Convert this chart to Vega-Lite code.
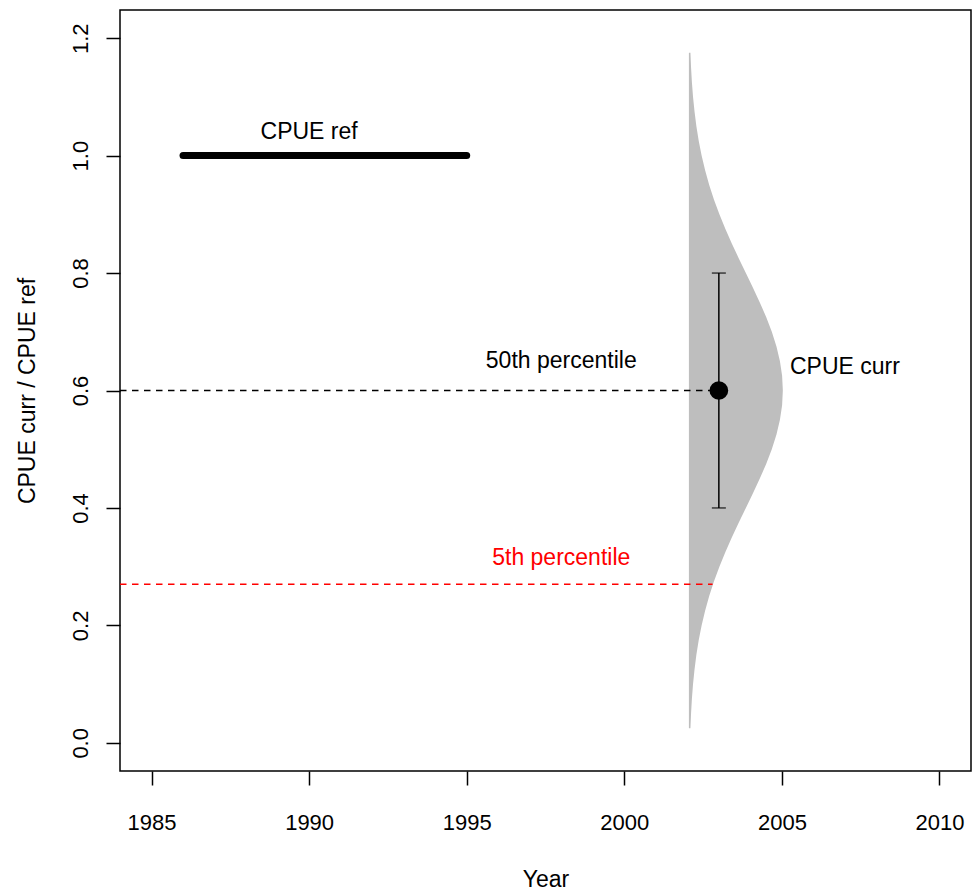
{
  "$schema": "https://vega.github.io/schema/vega-lite/v6.json",
  "width": 851,
  "height": 761,
  "autosize": {"type": "none"},
  "padding": {"left": 120, "top": 10, "right": 1, "bottom": 124},
  "background": "white",
  "config": {
    "font": "Liberation Sans",
    "view": {"stroke": "black", "strokeWidth": 1.5},
    "text": {"font": "Liberation Sans", "fontSize": 23}
  },
  "datasets": {
    "density": [
      {"ratio": 0.025, "year": 2002.098},
      {"ratio": 0.05, "year": 2002.118},
      {"ratio": 0.075, "year": 2002.145},
      {"ratio": 0.1, "year": 2002.181},
      {"ratio": 0.125, "year": 2002.228},
      {"ratio": 0.15, "year": 2002.287},
      {"ratio": 0.175, "year": 2002.362},
      {"ratio": 0.2, "year": 2002.453},
      {"ratio": 0.225, "year": 2002.564},
      {"ratio": 0.25, "year": 2002.694},
      {"ratio": 0.275, "year": 2002.846},
      {"ratio": 0.3, "year": 2003.017},
      {"ratio": 0.325, "year": 2003.208},
      {"ratio": 0.35, "year": 2003.414},
      {"ratio": 0.375, "year": 2003.633},
      {"ratio": 0.4, "year": 2003.857},
      {"ratio": 0.425, "year": 2004.082},
      {"ratio": 0.45, "year": 2004.299},
      {"ratio": 0.475, "year": 2004.501},
      {"ratio": 0.5, "year": 2004.68},
      {"ratio": 0.525, "year": 2004.828},
      {"ratio": 0.55, "year": 2004.938},
      {"ratio": 0.575, "year": 2005.007},
      {"ratio": 0.6, "year": 2005.03},
      {"ratio": 0.625, "year": 2005.007},
      {"ratio": 0.65, "year": 2004.938},
      {"ratio": 0.675, "year": 2004.828},
      {"ratio": 0.7, "year": 2004.68},
      {"ratio": 0.725, "year": 2004.501},
      {"ratio": 0.75, "year": 2004.299},
      {"ratio": 0.775, "year": 2004.082},
      {"ratio": 0.8, "year": 2003.857},
      {"ratio": 0.825, "year": 2003.633},
      {"ratio": 0.85, "year": 2003.414},
      {"ratio": 0.875, "year": 2003.208},
      {"ratio": 0.9, "year": 2003.017},
      {"ratio": 0.925, "year": 2002.846},
      {"ratio": 0.95, "year": 2002.694},
      {"ratio": 0.975, "year": 2002.564},
      {"ratio": 1.0, "year": 2002.453},
      {"ratio": 1.025, "year": 2002.362},
      {"ratio": 1.05, "year": 2002.287},
      {"ratio": 1.075, "year": 2002.228},
      {"ratio": 1.1, "year": 2002.181},
      {"ratio": 1.125, "year": 2002.145},
      {"ratio": 1.15, "year": 2002.118},
      {"ratio": 1.175, "year": 2002.098}
    ],
    "reference": [
      {"year": 1986, "ratio": 1.0},
      {"year": 1995, "ratio": 1.0}
    ],
    "median": [
      {"year": 1984, "ratio": 0.6},
      {"year": 2003, "ratio": 0.6}
    ],
    "fifth": [
      {"year": 1984, "ratio": 0.27},
      {"year": 2002.8, "ratio": 0.27}
    ],
    "current": [
      {"year": 2003, "ratio": 0.6, "lower": 0.4, "upper": 0.8}
    ],
    "bounds": [
      {"year": 2003, "ratio": 0.4},
      {"year": 2003, "ratio": 0.8}
    ],
    "labels": [
      {"year": 1990, "ratio": 1.04, "label": "CPUE ref"},
      {"year": 1998, "ratio": 0.65, "label": "50th percentile"},
      {"year": 2007, "ratio": 0.64, "label": "CPUE curr"}
    ],
    "redLabels": [
      {"year": 1998, "ratio": 0.315, "label": "5th percentile"}
    ]
  },
  "layer": [
    {
      "data": {"name": "density"},
      "mark": {"type": "area", "orient": "horizontal", "color": "#BEBEBE", "opacity": 1},
      "encoding": {
        "y": {
          "field": "ratio",
          "type": "quantitative",
          "scale": {"domain": [-0.048, 1.248], "nice": false, "zero": false},
          "axis": {
            "values": [0, 0.2, 0.4, 0.6, 0.8, 1.0, 1.2],
            "format": ".1f",
            "title": "CPUE curr / CPUE ref",
            "domain": false,
            "grid": false,
            "tickSize": 14,
            "tickWidth": 1.5,
            "tickColor": "black",
            "labelAngle": -90,
            "labelAlign": "center",
            "labelBaseline": "alphabetic",
            "labelPadding": 19,
            "labelFontSize": 22,
            "labelColor": "black",
            "labelFont": "Liberation Sans",
            "labelOverlap": false,
            "titleFont": "Liberation Sans",
            "titleFontSize": 23,
            "titleFontWeight": "normal",
            "titleColor": "black",
            "titlePadding": 30
          }
        },
        "x": {
          "field": "year",
          "type": "quantitative",
          "scale": {"domain": [1984, 2011], "nice": false, "zero": false},
          "axis": {
            "values": [1985, 1990, 1995, 2000, 2005, 2010],
            "format": "d",
            "title": "Year",
            "domain": false,
            "grid": false,
            "tickSize": 14,
            "tickWidth": 1.5,
            "tickColor": "black",
            "labelPadding": 27,
            "labelFontSize": 22,
            "labelColor": "black",
            "labelFont": "Liberation Sans",
            "labelFlush": false,
            "labelOverlap": false,
            "titleFont": "Liberation Sans",
            "titleFontSize": 23,
            "titleFontWeight": "normal",
            "titleColor": "black",
            "titlePadding": 35
          }
        },
        "x2": {"datum": 2002.05}
      }
    },
    {
      "data": {"name": "reference"},
      "mark": {"type": "line", "color": "black", "strokeWidth": 7, "strokeCap": "round"},
      "encoding": {
        "x": {"field": "year", "type": "quantitative"},
        "y": {"field": "ratio", "type": "quantitative"}
      }
    },
    {
      "data": {"name": "median"},
      "mark": {"type": "line", "color": "black", "strokeWidth": 1.5, "strokeDash": [6.5, 5.5]},
      "encoding": {
        "x": {"field": "year", "type": "quantitative"},
        "y": {"field": "ratio", "type": "quantitative"}
      }
    },
    {
      "data": {"name": "fifth"},
      "mark": {"type": "line", "color": "#FF0000", "strokeWidth": 1.5, "strokeDash": [6.5, 5.5]},
      "encoding": {
        "x": {"field": "year", "type": "quantitative"},
        "y": {"field": "ratio", "type": "quantitative"}
      }
    },
    {
      "data": {"name": "current"},
      "mark": {"type": "rule", "color": "black", "strokeWidth": 1.5},
      "encoding": {
        "x": {"field": "year", "type": "quantitative"},
        "y": {"field": "lower", "type": "quantitative"},
        "y2": {"field": "upper"}
      }
    },
    {
      "data": {"name": "bounds"},
      "mark": {"type": "tick", "orient": "horizontal", "color": "black", "size": 14, "thickness": 1.5},
      "encoding": {
        "x": {"field": "year", "type": "quantitative"},
        "y": {"field": "ratio", "type": "quantitative"}
      }
    },
    {
      "data": {"name": "current"},
      "mark": {"type": "circle", "color": "black", "opacity": 1, "size": 350},
      "encoding": {
        "x": {"field": "year", "type": "quantitative"},
        "y": {"field": "ratio", "type": "quantitative"}
      }
    },
    {
      "data": {"name": "labels"},
      "mark": {"type": "text", "color": "black", "align": "center", "baseline": "middle"},
      "encoding": {
        "x": {"field": "year", "type": "quantitative"},
        "y": {"field": "ratio", "type": "quantitative"},
        "text": {"field": "label"}
      }
    },
    {
      "data": {"name": "redLabels"},
      "mark": {"type": "text", "color": "#FF0000", "align": "center", "baseline": "middle"},
      "encoding": {
        "x": {"field": "year", "type": "quantitative"},
        "y": {"field": "ratio", "type": "quantitative"},
        "text": {"field": "label"}
      }
    }
  ]
}
